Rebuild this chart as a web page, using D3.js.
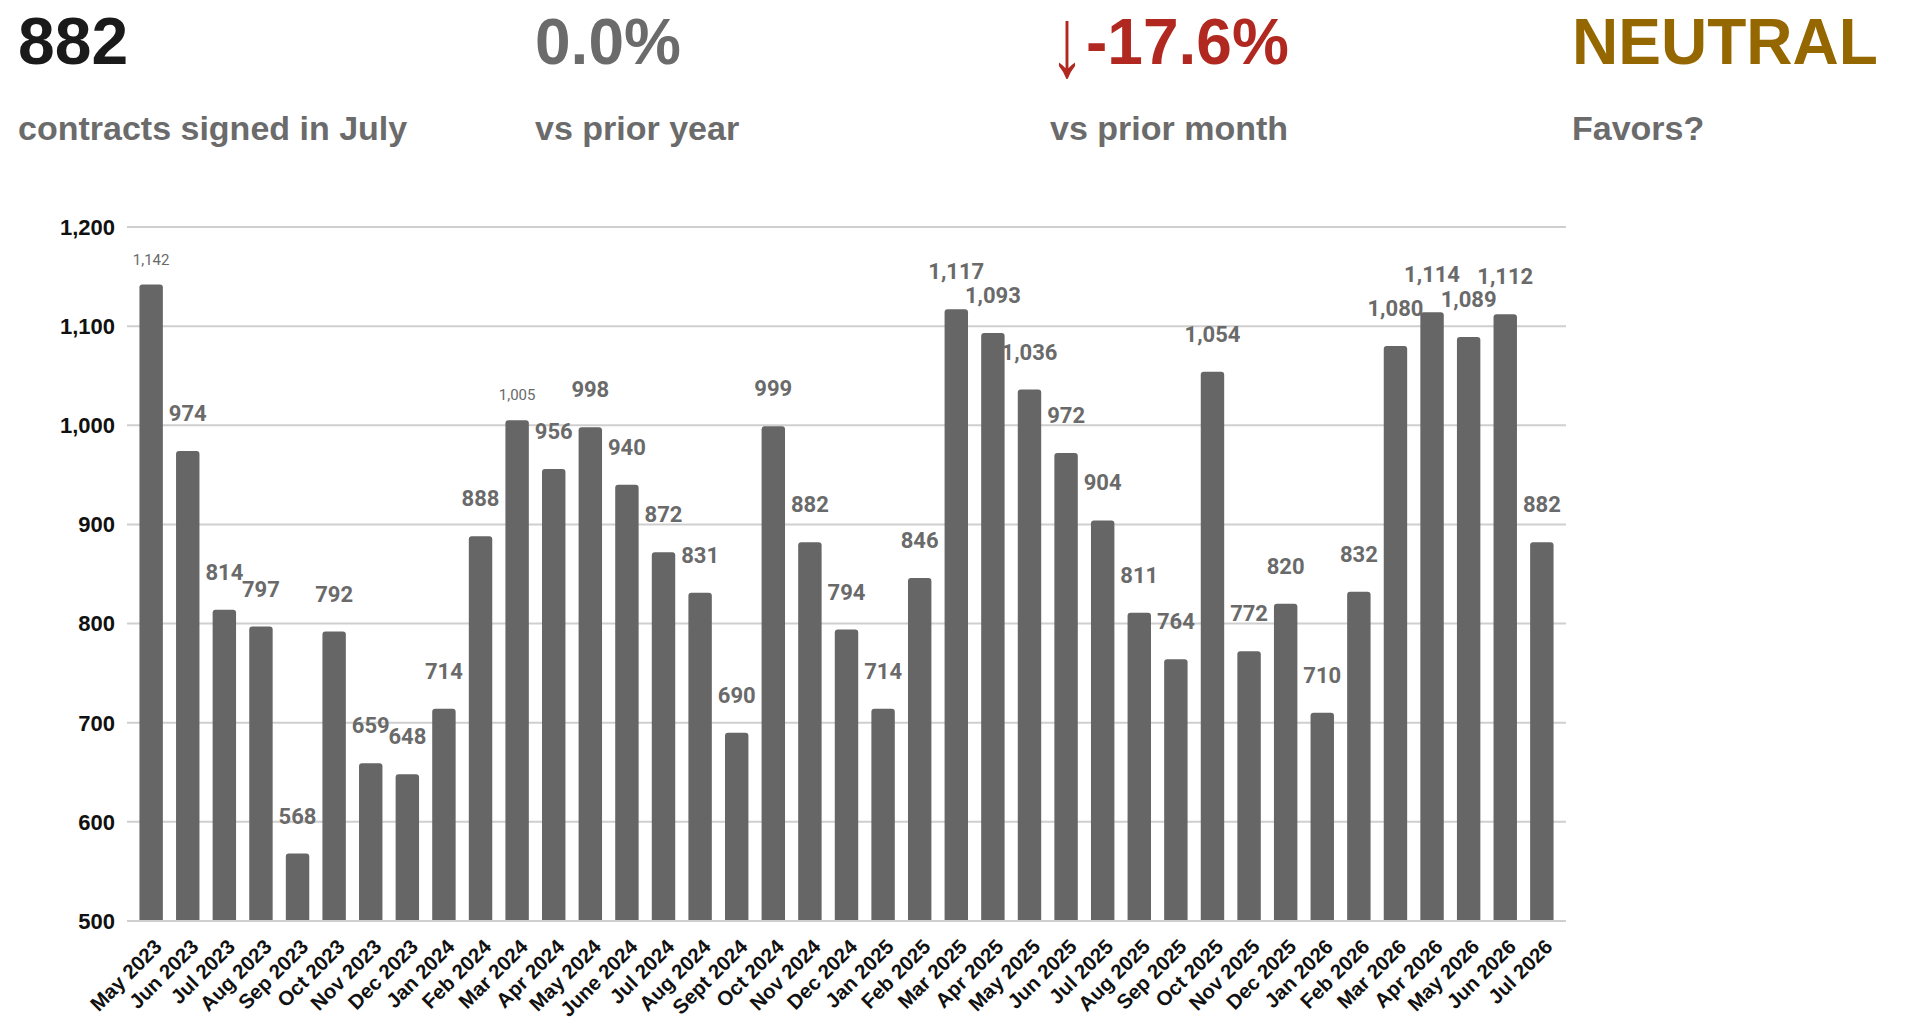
<!DOCTYPE html>
<html lang="en">
<head>
<meta charset="utf-8">
<script src="https://cdn.jsdelivr.net/npm/d3@7"></script>
<style>
  body { margin: 0; background: #fff; }
  .kpi { font-family: "Liberation Sans", Arial, sans-serif; font-weight: bold; }
  .tick-y { font-family: "Liberation Sans", Arial, sans-serif; font-weight: bold; font-size: 22px; fill: #111; }
  .tick-x { font-family: "Liberation Sans", Arial, sans-serif; font-weight: bold; font-size: 20.5px; fill: #111; }
  .bar-label { font-family: Roboto, "Noto Sans", sans-serif; font-weight: bold; fill: #6a6a6a; text-anchor: middle; }
</style>
</head>
<body>
<div id="chart"></div>
<script>
// monthly contracts signed
var months = ["May 2023","Jun 2023","Jul 2023","Aug 2023","Sep 2023","Oct 2023","Nov 2023","Dec 2023",
  "Jan 2024","Feb 2024","Mar 2024","Apr 2024","May 2024","June 2024","Jul 2024","Aug 2024","Sept 2024",
  "Oct 2024","Nov 2024","Dec 2024","Jan 2025","Feb 2025","Mar 2025","Apr 2025","May 2025","Jun 2025",
  "Jul 2025","Aug 2025","Sep 2025","Oct 2025","Nov 2025","Dec 2025","Jan 2026","Feb 2026","Mar 2026",
  "Apr 2026","May 2026","Jun 2026","Jul 2026"];
var contracts = [1142,974,814,797,568,792,659,648,714,888,1005,956,998,940,872,831,690,999,882,794,714,846,
  1117,1093,1036,972,904,811,764,1054,772,820,710,832,1080,1114,1089,1112,882];
// labels that the reference shows in a smaller size
var smallLabels = ["May 2023","Mar 2024"];
var yTicks = [500,600,700,800,900,1000,1100,1200];

var kpiValues = ["882","0.0%","-17.6%","NEUTRAL"];
var kpiCaptions = ["contracts signed in July","vs prior year","vs prior month","Favors?"];

var width = 1920, height = 1034;
var plot = {left: 127, right: 1566, top: 227, bottom: 921};

var svg = d3.select("#chart").append("svg")
  .attr("width", width)
  .attr("height", height);

// header numbers
var kpiX = [18, 535, 1050, 1572];
var kpiColor = ["#1a1a1a", "#6b6b6b", "#b0281f", "#956700"];

kpiValues.forEach(function(v, i){
  var xv = kpiX[i];
  if (i == 2) {
    // thin tall arrow in front of the month change
    svg.append("text")
      .attr("transform", "translate(" + xv + ",76) scale(0.7,1)")
      .style("font-family", "'Liberation Sans', Arial, sans-serif")
      .style("font-size", "98px")
      .style("fill", kpiColor[i])
      .text("↓");
    xv = xv + 36;
  }
  svg.append("text")
    .attr("class", "kpi")
    .attr("x", xv)
    .attr("y", 64)
    .style("font-size", i == 0 ? "66px" : "64px")
    .style("fill", kpiColor[i])
    .text(v);
  svg.append("text")
    .attr("class", "kpi")
    .attr("x", kpiX[i])
    .attr("y", 140)
    .style("font-size", "34px")
    .style("fill", "#6b6b6b")
    .text(kpiCaptions[i]);
});

var x = d3.scaleBand()
  .domain(months)
  .range([plot.left, plot.right])
  .paddingInner(0.36)
  .paddingOuter(0.34);

var y = d3.scaleLinear()
  .domain([500, 1200])
  .range([plot.bottom, plot.top]);

// grid
svg.append("g").selectAll("line")
  .data(yTicks)
  .enter().append("line")
    .attr("x1", plot.left)
    .attr("x2", plot.right)
    .attr("y1", function(d){ return y(d); })
    .attr("y2", function(d){ return y(d); })
    .attr("stroke", "#cfcfcf")
    .attr("stroke-width", 2);

svg.append("g").selectAll("text")
  .data(yTicks)
  .enter().append("text")
    .attr("class", "tick-y")
    .attr("x", 115)
    .attr("y", function(d){ return y(d); })
    .attr("dy", "0.36em")
    .attr("text-anchor", "end")
    .text(d3.format(","));

// bars with rounded tops
var r = 3;
svg.append("g").selectAll("path")
  .data(months)
  .enter().append("path")
    .attr("fill", "#666666")
    .attr("d", function(m, i){
      var x0 = x(m), x1 = x0 + x.bandwidth(), yt = y(contracts[i]), yb = y(500) - 1;
      return "M" + x0 + "," + yb + "V" + (yt + r) + "Q" + x0 + "," + yt + " " + (x0 + r) + "," + yt +
        "H" + (x1 - r) + "Q" + x1 + "," + yt + " " + x1 + "," + (yt + r) + "V" + yb + "Z";
    });

// value labels
svg.append("g").selectAll("text")
  .data(months)
  .enter().append("text")
    .attr("class", "bar-label")
    .attr("x", function(m){ return x(m) + x.bandwidth() / 2; })
    .attr("y", function(m, i){ return y(contracts[i]) - (smallLabels.indexOf(m) >= 0 ? 20 : 30); })
    .style("font-size", function(m){ return smallLabels.indexOf(m) >= 0 ? "15px" : "22px"; })
    .style("font-weight", function(m){ return smallLabels.indexOf(m) >= 0 ? "normal" : "bold"; })
    .text(function(m, i){ return d3.format(",")(contracts[i]); });

// month labels
svg.append("g").selectAll("text")
  .data(months)
  .enter().append("text")
    .attr("class", "tick-x")
    .attr("text-anchor", "end")
    .attr("transform", function(m){
      return "translate(" + (x(m) + x.bandwidth() / 2 + 12) + "," + (plot.bottom + 27) + ") rotate(-45)";
    })
    .text(function(m){ return m; });
</script>
</body>
</html>
